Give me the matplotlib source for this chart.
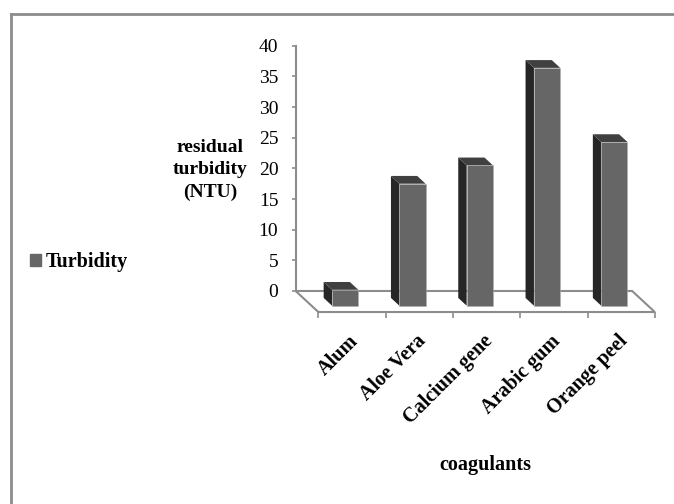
"""Residual turbidity per coagulant, drawn as an Excel-style 3D column chart."""

import matplotlib

matplotlib.use("Agg")
import matplotlib.pyplot as plt
from matplotlib.lines import Line2D
from matplotlib.patches import Patch, Polygon

coagulants = ["Alum", "Aloe Vera", "Calcium gene", "Arabic gum", "Orange peel"]
turbidity = [2.6, 19.9, 22.9, 38.8, 26.7]
y_ticks = [0, 5, 10, 15, 20, 25, 30, 35, 40]

plt.rcParams["font.family"] = ["Liberation Serif", "DejaVu Serif"]

W, H = 674, 504
fig = plt.figure(figsize=(W / 100, H / 100), dpi=100)
ax = fig.add_axes([0, 0, 1, 1])
# data x: one unit per category on the front floor edge; data y: value units
ax.set_xlim(-4.73, 5.285)
ax.set_ylim(-34.75, 47.47)
ax.patch.set_visible(False)

# oblique depth vector (front -> back) in data units
DX, DY = -0.337, 3.43
FLOOR = -DY  # front edge of the floor
GRAY = "#8c8c8c"
n = len(coagulants)

floor = Polygon(
    [(0, FLOOR), (n, FLOOR), (n + DX, FLOOR + DY), (DX, FLOOR + DY)],
    closed=True, facecolor="white", edgecolor=GRAY, lw=1.5, zorder=1,
)
ax.add_patch(floor)

# bars sit in the middle of the floor depth
f0, fd = 0.30, 0.37
width = 0.39
base = FLOOR + f0 * DY
bdx, bdy = fd * DX, fd * DY
lefts = [i + 0.5 + f0 * DX - width / 2 for i in range(n)]

ax.bar(lefts, turbidity, width=width, bottom=base, align="edge",
       color="#666666", edgecolor="#b0b0b0", linewidth=0.4, zorder=3)
for x0, v in zip(lefts, turbidity):
    top = base + v
    side = Polygon([(x0, base), (x0, top), (x0 + bdx, top + bdy), (x0 + bdx, base + bdy)],
                   closed=True, facecolor="#262626", edgecolor="none", zorder=2)
    lid = Polygon([(x0, top), (x0 + width, top), (x0 + width + bdx, top + bdy), (x0 + bdx, top + bdy)],
                  closed=True, facecolor="#404040", edgecolor="none", zorder=2)
    ax.add_patch(side)
    ax.add_patch(lid)

# value axis on the back wall
for s in ["top", "right"]:
    ax.spines[s].set_visible(False)
ax.spines["left"].set_position(("data", DX))
ax.spines["left"].set_bounds(0, 40)
ax.spines["left"].set_color(GRAY)
ax.spines["left"].set_linewidth(1.5)
ax.set_yticks(y_ticks)
ax.tick_params(axis="y", direction="out", length=3, width=1.2, color=GRAY,
               pad=9.5, labelsize=14)

# category axis on the front floor edge
ax.spines["bottom"].set_position(("data", FLOOR))
ax.spines["bottom"].set_bounds(0, n)
ax.spines["bottom"].set_visible(False)
ax.set_xticks(range(n + 1), [""] * (n + 1))
ax.tick_params(axis="x", which="major", direction="out", length=4, width=1.2, color=GRAY)
ax.set_xticks([i + 0.55 for i in range(n)], coagulants, minor=True)
ax.tick_params(axis="x", which="minor", length=0, pad=19, labelsize=14.5)
for lab in ax.get_xticklabels(minor=True):
    lab.set_rotation(45)
    lab.set_ha("right")
    lab.set_va("center")
    lab.set_rotation_mode("anchor")
    lab.set_fontweight("bold")

fig.text(210 / W, 1 - 170 / H, "residual\nturbidity\n(NTU)", ha="center", va="center",
         fontsize=14, fontweight="bold", linespacing=1.4)
fig.text(485 / W, 1 - 465 / H, "coagulants", ha="center", va="center",
         fontsize=14.5, fontweight="bold")

ax.legend(handles=[Patch(color="#666666", label="Turbidity")], loc="center left",
          bbox_to_anchor=(30 / W, 1 - 262 / H), bbox_transform=fig.transFigure,
          frameon=False, borderpad=0, borderaxespad=0, handlelength=0.55,
          handleheight=0.55, handletextpad=0.25, prop={"weight": "bold", "size": 14.5})

# chart area border (only top and left show in the frame)
fig.add_artist(Line2D([11 / W, 11 / W], [0, 1 - 14 / H], color=GRAY, lw=2))
fig.add_artist(Line2D([11 / W, 1], [1 - 14 / H, 1 - 14 / H], color=GRAY, lw=2))

fig.savefig("out.png", dpi=100)
